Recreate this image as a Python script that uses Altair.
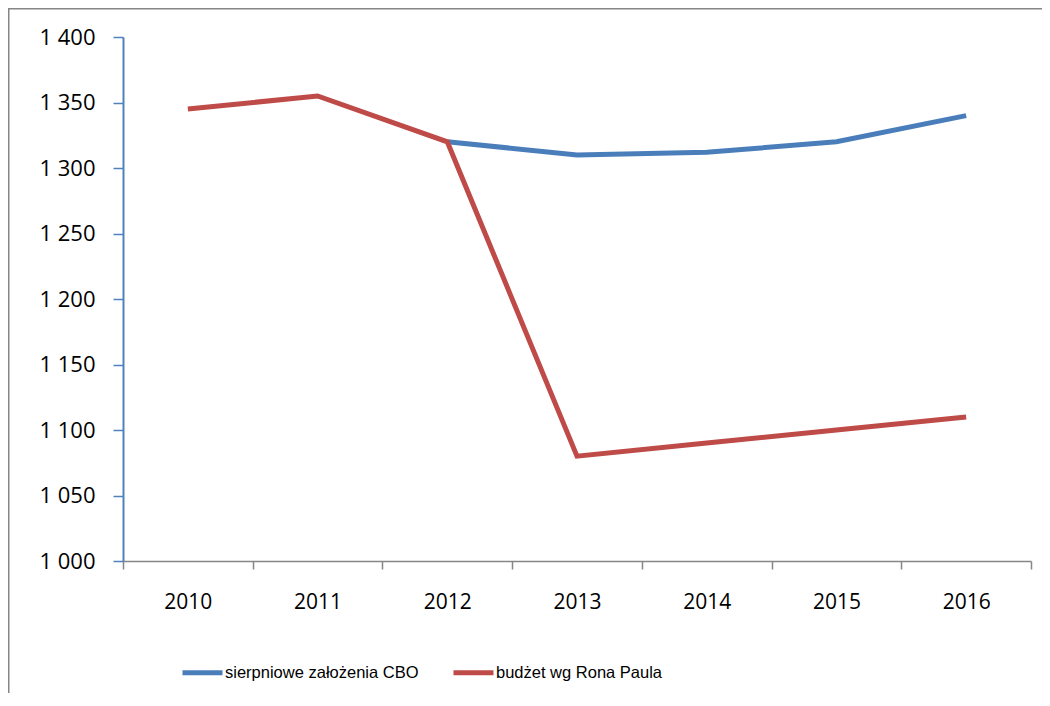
import altair as alt
import pandas as pd

years = ["2010", "2011", "2012", "2013", "2014", "2015", "2016"]
series_cbo = "sierpniowe założenia CBO"
series_paul = "budżet wg Rona Paula"
cbo_years = ["2012", "2013", "2014", "2015", "2016"]
cbo_values = [1320, 1310, 1312, 1320, 1340]
paul_years = ["2010", "2011", "2012", "2013", "2014", "2015", "2016"]
paul_values = [1345, 1355, 1320, 1080, 1090, 1100, 1110]
y_ticks = [1000, 1050, 1100, 1150, 1200, 1250, 1300, 1350, 1400]

BLUE = "#4A7EBB"
RED = "#BE4B48"
AXIS_FONT = "Open Sans"
LEGEND_FONT = "Liberation Sans"

df_cbo = pd.DataFrame({"year": cbo_years, "value": cbo_values, "series": series_cbo})
df_paul = pd.DataFrame({"year": paul_years, "value": paul_values, "series": series_paul})

x_enc = alt.X(
    "year:O",
    scale=alt.Scale(type="band", domain=years, paddingInner=0, paddingOuter=0),
    bandPosition=0.5,
    axis=alt.Axis(
        title=None,
        tickBand="extent",
        grid=False,
        domainColor="#868686",
        domainWidth=1.5,
        tickColor="#868686",
        tickWidth=1.5,
        tickSize=8,
        labelFont=AXIS_FONT,
        labelFontSize=21,
        labelColor="#000000",
        labelPadding=22,
        labelAngle=0,
    ),
)
y_enc = alt.Y(
    "value:Q",
    scale=alt.Scale(domain=[1000, 1400], nice=False, zero=False),
    axis=alt.Axis(
        title=None,
        values=y_ticks,
        grid=False,
        domainColor="#4F81BD",
        domainWidth=2,
        tickColor="#4F81BD",
        tickWidth=1.5,
        tickSize=10,
        labelFont=AXIS_FONT,
        labelFontSize=22,
        labelColor="#000000",
        labelPadding=18,
        labelExpr="replace(format(datum.value, ','), ',', ' ')",
    ),
)
color_enc = alt.Color(
    "series:N",
    scale=alt.Scale(domain=[series_cbo, series_paul], range=[BLUE, RED]),
    legend=alt.Legend(
        title=None,
        orient="none",
        legendX=57,
        legendY=613,
        direction="horizontal",
        symbolType="stroke",
        symbolSize=1600,
        symbolStrokeWidth=5,
        labelFont=LEGEND_FONT,
        labelFontSize=16.5,
        labelColor="#000000",
        labelOffset=0,
        columnPadding=24,
        labelLimit=400,
    ),
)

line_cbo = alt.Chart(df_cbo).mark_line(strokeWidth=5).encode(
    x=x_enc, y=y_enc, color=color_enc
)
line_paul = alt.Chart(df_paul).mark_line(strokeWidth=5).encode(
    x=x_enc, y=y_enc, color=color_enc
)

frame_df = pd.DataFrame({"k": [0]})
frame_left = alt.Chart(frame_df).mark_rule(color="#868686", strokeWidth=2).encode(
    x=alt.value(-114.5), y=alt.value(-28.5), y2=alt.value(680)
)
frame_top = alt.Chart(frame_df).mark_rule(color="#868686", strokeWidth=2).encode(
    x=alt.value(-115), x2=alt.value(919), y=alt.value(-28.5)
)

chart = (
    alt.layer(frame_left, frame_top, line_cbo, line_paul)
    .properties(
        width=908,
        height=524,
        background="#ffffff",
        autosize=alt.AutoSizeParams(type="none"),
        padding={"left": 115, "top": 29, "right": 11, "bottom": 132},
    )
    .configure_view(strokeWidth=0, stroke="#ffffff")
)

chart.save("out.html", embed_options={"renderer": "svg", "actions": False})
